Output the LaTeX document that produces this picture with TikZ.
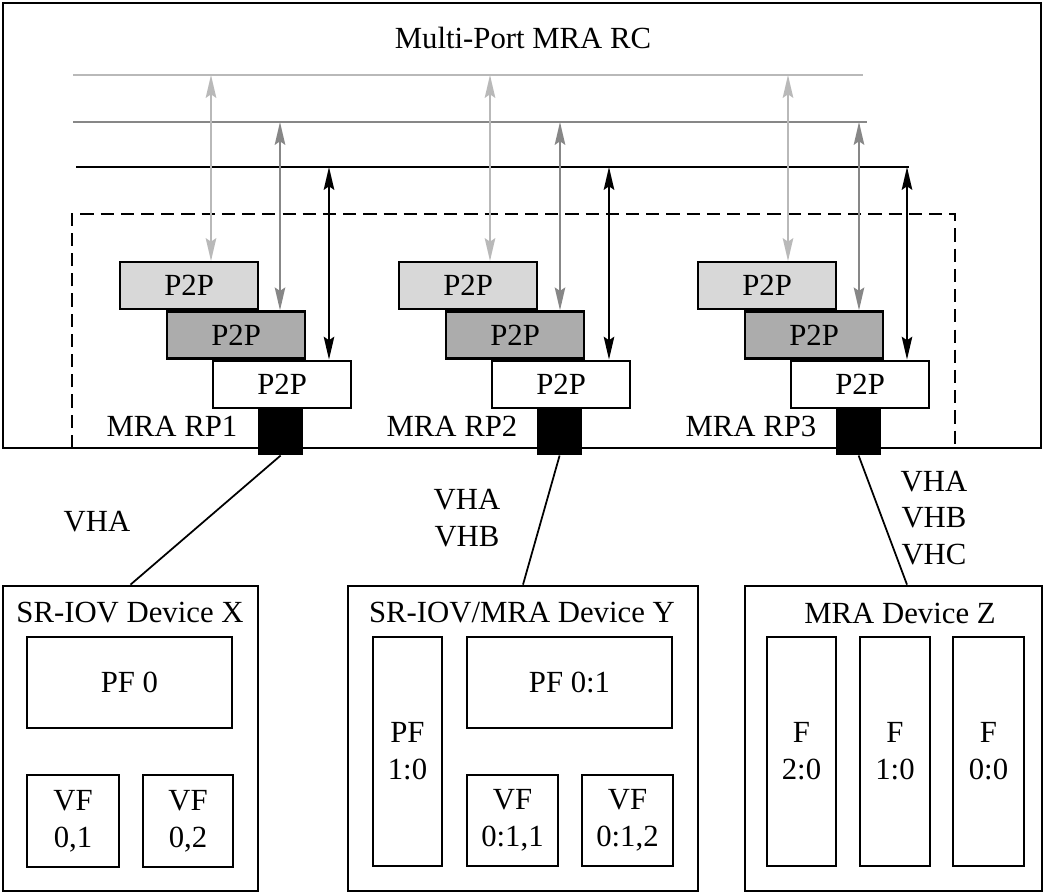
\documentclass[tikz,border=0pt]{standalone}
\usepackage{fontspec}
\setmainfont{Liberation Serif}
\usetikzlibrary{arrows.meta,positioning}
\definecolor{lightgr}{RGB}{216,216,216}
\definecolor{midgr}{RGB}{172,172,172}
\definecolor{lightln}{RGB}{185,185,185}
\definecolor{midln}{RGB}{135,135,135}

\begin{document}
\begin{tikzpicture}[x=0.02cm,y=-0.02cm,font=\fontsize{17.5}{21}\selectfont,
    box/.style={draw,line width=1.3pt,inner sep=0pt,align=center},
    p2p/.style={box,minimum width=2.76cm,minimum height=0.94cm,anchor=north west},
    port/.style={fill=black,minimum width=0.9cm,minimum height=0.92cm,inner sep=0pt,anchor=north},
    dev/.style={box,line width=1.6pt},
    bus/.style={line width=1pt},
    dbl/.style={{Stealth[length=13pt,width=6pt,inset=2pt]}-{Stealth[length=13pt,width=6pt,inset=2pt]},line width=1pt}]
    \useasboundingbox (0,0) rectangle (1046,893);

    \draw[line width=1.7pt] (3,3) rectangle (1041,448);
    \node (rc) at (523,38) {Multi-Port MRA RC};
    \draw[line width=1.1pt,dash pattern=on 7.5pt off 4pt] (72,448) |- (955,214) -- (955,448);

    \draw[bus,lightln] (73,75) -- (863,75);
    \draw[bus,midln] (73,122) -- (867,122);
    \draw[bus] (76,167) -- (909,167);

    \node[p2p,fill=lightgr] (pa1) at (119,261) {P2P};
    \node[p2p,fill=midgr] (pb1) at ([xshift=0.94cm]pa1.south west) {P2P};
    \node[p2p,fill=white] (pc1) at ([xshift=0.92cm]pb1.south west) {P2P};
    \node[port] (r1) at ([xshift=-0.03cm]pc1.south) {};
    \node (rp1) at (172,426) {MRA RP1};

    \node[p2p,fill=lightgr] (pa2) at (398,261) {P2P};
    \node[p2p,fill=midgr] (pb2) at ([xshift=0.94cm]pa2.south west) {P2P};
    \node[p2p,fill=white] (pc2) at ([xshift=0.92cm]pb2.south west) {P2P};
    \node[port] (r2) at ([xshift=-0.03cm]pc2.south) {};
    \node (rp2) at (452,426) {MRA RP2};

    \node[p2p,fill=lightgr] (pa3) at (697,261) {P2P};
    \node[p2p,fill=midgr] (pb3) at ([xshift=0.94cm]pa3.south west) {P2P};
    \node[p2p,fill=white] (pc3) at ([xshift=0.92cm]pb3.south west) {P2P};
    \node[port] (r3) at ([xshift=-0.03cm]pc3.south) {};
    \node (rp3) at (751,426) {MRA RP3};

    \coordinate (la1) at (211,75);
    \coordinate (ma1) at (280,122);
    \coordinate (ka1) at (329,167);
    \coordinate (la2) at (490,75);
    \coordinate (ma2) at (560,122);
    \coordinate (ka2) at (609,167);
    \coordinate (la3) at (788,75);
    \coordinate (ma3) at (859,122);
    \coordinate (ka3) at (907,167);

    \draw[dbl,lightln] (la1) -- (la1 |- pa1.north);
    \draw[dbl,midln] (ma1) -- (ma1 |- pb1.north);
    \draw[dbl] (ka1) -- (ka1 |- pc1.north);
    \draw[dbl,lightln] (la2) -- (la2 |- pa2.north);
    \draw[dbl,midln] (ma2) -- (ma2 |- pb2.north);
    \draw[dbl] (ka2) -- (ka2 |- pc2.north);
    \draw[dbl,lightln] (la3) -- (la3 |- pa3.north);
    \draw[dbl,midln] (ma3) -- (ma3 |- pb3.north);
    \draw[dbl] (ka3) -- (ka3 |- pc3.north);

    \node[dev,minimum width=5.1cm,minimum height=6.1cm] (devx) at (130.5,738.5) {};
    \node[dev,minimum width=7cm,minimum height=6.1cm] (devy) at (523,738.5) {};
    \node[dev,minimum width=5.94cm,minimum height=6.1cm] (devz) at (893.5,738.5) {};
    \node (tx) at (130,613) {SR-IOV Device X};
    \node (ty) at (522,613) {SR-IOV/MRA Device Y};
    \node (tz) at (900,613) {MRA Device Z};

    \node[box,minimum width=4.1cm,minimum height=1.82cm] (pf0) at (129.5,682.5) {PF 0};
    \node[box,minimum width=1.84cm,minimum height=1.84cm] (vf01) at (73,821) {VF\\0,1};
    \node[box,minimum width=1.8cm,minimum height=1.84cm] (vf02) at (188,821) {VF\\0,2};

    \node[box,minimum width=1.38cm,minimum height=4.58cm] (pf10) at (407.5,751.5) {PF\\1:0};
    \node[box,minimum width=4.1cm,minimum height=1.82cm] (pf01) at (569.5,682.5) {PF 0:1};
    \node[box,minimum width=1.82cm,minimum height=1.82cm] (vf011) at (512.5,820.5) {VF\\0:1,1};
    \node[box,minimum width=1.82cm,minimum height=1.82cm] (vf012) at (627.5,820.5) {VF\\0:1,2};

    \node[box,minimum width=1.38cm,minimum height=4.58cm] (f20) at (801.5,751.5) {F\\2:0};
    \node[box,minimum width=1.4cm,minimum height=4.58cm] (f10) at (895,751.5) {F\\1:0};
    \node[box,minimum width=1.42cm,minimum height=4.58cm] (f00) at (988.5,751.5) {F\\0:0};

    \draw[line width=1pt] (r1.south) -- (devx.north);
    \draw[line width=1pt] (r2.south) -- (devy.north);
    \draw[line width=1pt] (r3.south) -- ([xshift=0.27cm]devz.north);

    \node (vh1) at (97,522) {VHA};
    \node[align=center] (vh2) at (467,518) {VHA\\VHB};
    \node[align=center] (vh3) at (934,518) {VHA\\VHB\\VHC};

\end{tikzpicture}
\end{document}
